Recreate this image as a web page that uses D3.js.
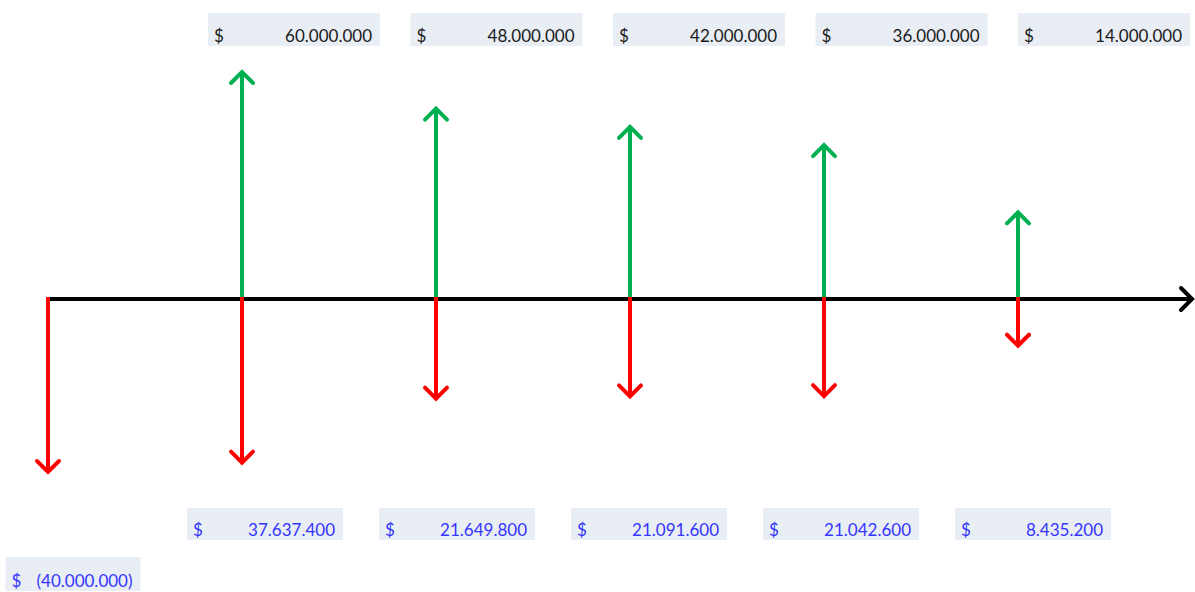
<!DOCTYPE html>
<html>
<head>
<meta charset="utf-8">
<script src="https://cdn.jsdelivr.net/npm/d3@7"></script>
<style>
  body { margin: 0; background: #fff; }
  svg { display: block; font-family: Lato, "Open Sans", sans-serif; }
</style>
</head>
<body>
<svg id="chart" width="1195" height="592"></svg>
<script>
// cash flow per period
const periods = [0, 1, 2, 3, 4, 5];
const inflows = [0, 60000000, 48000000, 42000000, 36000000, 14000000];
const outflows = [40000000, 37637400, 21649800, 21091600, 21042600, 8435200];

const W = 1195, H = 592;
const axisY = 299;

const svg = d3.select('#chart');

const x = d3.scaleLinear().domain([0, 5]).range([48, 1018]);
// label cells sit on their own grid (spreadsheet columns)
const xTop = d3.scaleLinear().domain([1, 5]).range([294, 1104]);
const xBottom = d3.scaleLinear().domain([0, 5]).range([73, 1033]);

const upLen = d3.scaleLinear().domain([0, 60000000]).range([44, 227]);
const downLen = d3.scaleLinear().domain([0, 40000000]).range([13, 173]);

const fmt = v => d3.format(',')(v).replace(/,/g, '.');

function chevron(g, tipX, tipY, dir, color) {
    // dir: -1 pointing up, 1 pointing down, 'right'
    const s = 11;
    let pts;
    if (dir === 'right') pts = [[tipX - s, tipY - s], [tipX, tipY], [tipX - s, tipY + s]];
    else pts = [[tipX - s, tipY - dir * s], [tipX, tipY], [tipX + s, tipY - dir * s]];
    g.append('polyline')
        .attr('points', pts.map(p => p.join(',')).join(' '))
        .attr('fill', 'none')
        .attr('stroke', color)
        .attr('stroke-width', 4)
        .attr('stroke-linecap', 'round')
        .attr('stroke-linejoin', 'miter');
}

// time axis
const axisG = svg.append('g');
axisG.append('line')
    .attr('x1', x(0)).attr('x2', W - 3)
    .attr('y1', axisY).attr('y2', axisY)
    .attr('stroke', '#000').attr('stroke-width', 4);
chevron(axisG, W - 3, axisY, 'right', '#000');

// inflow arrows
const upG = svg.append('g');
periods.forEach((p, i) => {
    if (!inflows[i]) return;
    const tip = axisY - upLen(inflows[i]);
    upG.append('line')
        .attr('x1', x(p)).attr('x2', x(p))
        .attr('y1', axisY).attr('y2', tip + 1)
        .attr('stroke', '#00b050').attr('stroke-width', 4);
    chevron(upG, x(p), tip, -1, '#00b050');
});

// outflow arrows
const downG = svg.append('g');
periods.forEach((p, i) => {
    if (!outflows[i]) return;
    const tip = axisY + downLen(outflows[i]);
    downG.append('line')
        .attr('x1', x(p)).attr('x2', x(p))
        .attr('y1', axisY - 2).attr('y2', tip - 1)
        .attr('stroke', '#ff0000').attr('stroke-width', 4);
    chevron(downG, x(p), tip, 1, '#ff0000');
});

// value cells
function cell(cx, top, w, h, text, color) {
    const g = svg.append('g');
    g.append('rect')
        .attr('x', cx - w / 2).attr('y', top)
        .attr('width', w).attr('height', h)
        .attr('fill', '#e9edf4');
    g.append('text')
        .attr('x', cx - w / 2 + 6).attr('y', top + h - 4)
        .attr('font-size', 17).attr('fill', color)
        .text('$');
    g.append('text')
        .attr('x', cx + w / 2 - 8).attr('y', top + h - 4)
        .attr('text-anchor', 'end')
        .attr('font-size', 17).attr('fill', color)
        .text(text);
}

periods.forEach((p, i) => {
    if (inflows[i]) cell(xTop(p), 13, 172, 33, fmt(inflows[i]), '#1a1a1a');
});
periods.forEach((p, i) => {
    if (p === 0) cell(xBottom(p), 557, 135, 34, '(' + fmt(outflows[i]) + ')', '#3535ff');
    else cell(xBottom(p), 508, 156, 32, fmt(outflows[i]), '#3535ff');
});
</script>
</body>
</html>
